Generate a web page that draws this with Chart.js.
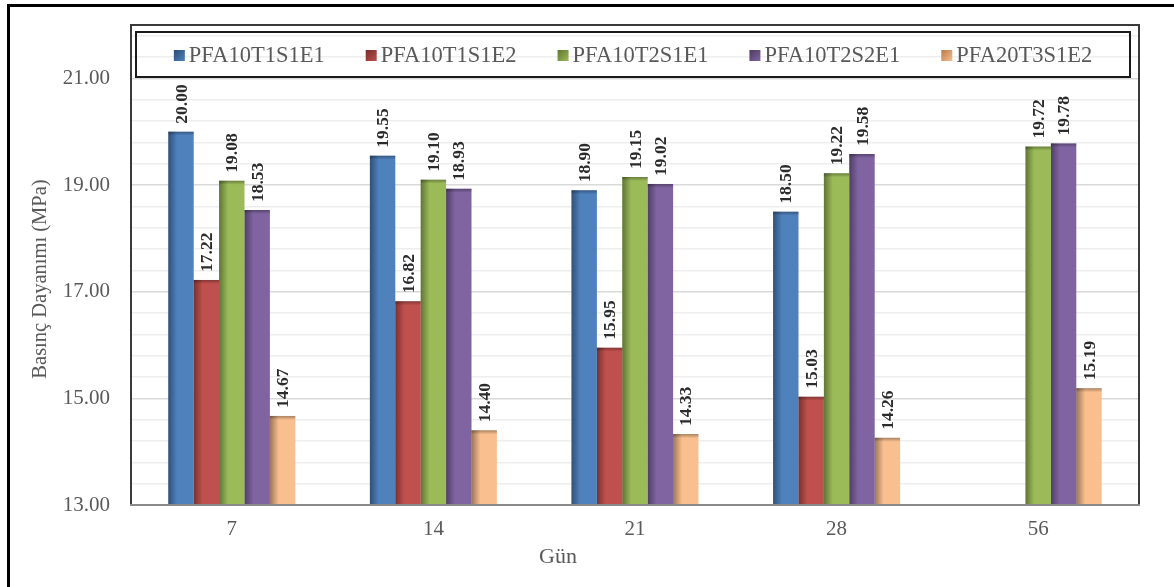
<!DOCTYPE html>
<html>
<head>
<meta charset="utf-8">
<script src="https://cdn.jsdelivr.net/npm/chart.js@4.4.1/dist/chart.umd.min.js"></script>
<style>
  html, body { margin: 0; padding: 0; background: #ffffff; }
  #wrap { position: relative; width: 1174px; height: 587px; overflow: hidden; }
  #frame {
    position: absolute; left: 7px; top: 4px; width: 1200px; height: 620px;
    border-left: 3px solid #000; border-top: 3px solid #000; pointer-events: none;
  }
  canvas { display: block; }
</style>
</head>
<body>
<div id="wrap">
  <canvas id="c" width="1174" height="587"></canvas>
  <div id="frame"></div>
</div>
<script>
// Curing age (days)
const days = ['7', '14', '21', '28', '56'];

// Compressive strength per mix (MPa); null = not tested at that age
const seriesNames = ['PFA10T1S1E1', 'PFA10T1S1E2', 'PFA10T2S1E1', 'PFA10T2S2E1', 'PFA20T3S1E2'];
const pfa10t1s1e1 = [20.00, 19.55, 18.90, 18.50, null];
const pfa10t1s1e2 = [17.22, 16.82, 15.95, 15.03, null];
const pfa10t2s1e1 = [19.08, 19.10, 19.15, 19.22, 19.72];
const pfa10t2s2e1 = [18.53, 18.93, 19.02, 19.58, 19.78];
const pfa20t3s1e2 = [14.67, 14.40, 14.33, 14.26, 15.19];

const seriesColors = ['#4f81bd', '#c0504d', '#9bbb59', '#8064a2', '#f9bf8f'];
const seriesDark   = ['#2c4d75', '#772c2a', '#5f7530', '#4d3b62', '#b6794a'];

// Axis range, labelled ticks and minor grid spacing
const yMin = 13, yMax = 22, yMinorStep = 0.4;
const yLabelValues = [13, 15, 17, 19, 21];

const serif = "'Times New Roman', 'Liberation Serif', serif";

function isLabelled(v) {
  return yLabelValues.some(t => Math.abs(t - v) < 1e-6);
}

function gridValues() {
  const out = [];
  for (let k = 0; yMin + k * yMinorStep < yMax - 1e-9; k++) {
    out.push(Math.round((yMin + k * yMinorStep) * 10) / 10);
  }
  return out;
}

// Shading on bar sides, value labels, legend, frame and axis titles
const decorPlugin = {
  id: 'decor',
  afterDatasetsDraw(chart) {
    const { ctx, chartArea: a } = chart;
    chart.data.datasets.forEach((ds, di) => {
      const meta = chart.getDatasetMeta(di);
      meta.data.forEach((bar, i) => {
        const v = ds.data[i];
        if (v === null || v === undefined) return;
        const left = bar.x - bar.width / 2;
        const bottom = Math.min(bar.base, a.bottom);
        const h = bottom - bar.y;
        ctx.save();
        ctx.beginPath();
        ctx.rect(a.left, a.top, a.right - a.left, a.bottom - a.top);
        ctx.clip();
        const sw = bar.width * 0.35;
        const g = ctx.createLinearGradient(left, 0, left + sw, 0);
        g.addColorStop(0, 'rgba(0,0,0,0.38)');
        g.addColorStop(1, 'rgba(0,0,0,0)');
        ctx.fillStyle = g;
        ctx.fillRect(left, bar.y, sw, h);
        const gt = ctx.createLinearGradient(0, bar.y, 0, bar.y + 4);
        gt.addColorStop(0, 'rgba(0,0,0,0.32)');
        gt.addColorStop(1, 'rgba(0,0,0,0)');
        ctx.fillStyle = gt;
        ctx.fillRect(left, bar.y, bar.width, 4);
        ctx.restore();

        // value label, rotated
        ctx.save();
        ctx.translate(bar.x, bar.y - 8);
        ctx.rotate(-Math.PI / 2);
        ctx.font = 'bold 17.5px ' + serif;
        ctx.fillStyle = '#2b2b2b';
        ctx.textAlign = 'left';
        ctx.textBaseline = 'middle';
        ctx.fillText(v.toFixed(2), 0, 1);
        ctx.restore();
      });
    });
  },
  afterDraw(chart) {
    const { ctx, chartArea: a } = chart;
    ctx.save();
    // plot frame
    ctx.strokeStyle = '#3a3a3a';
    ctx.lineWidth = 2;
    ctx.beginPath();
    ctx.moveTo(a.left, a.bottom);
    ctx.lineTo(a.left, a.top);
    ctx.lineTo(a.right, a.top);
    ctx.lineTo(a.right, a.bottom);
    ctx.stroke();
    ctx.strokeStyle = '#8a8a8a';
    ctx.beginPath();
    ctx.moveTo(a.left - 1, a.bottom);
    ctx.lineTo(a.right + 1, a.bottom);
    ctx.stroke();

    // legend box
    const lx = a.left + 5, ly = a.top + 7, lw = a.right - a.left - 14, lh = 45;
    ctx.strokeStyle = '#1a1a1a';
    ctx.lineWidth = 2;
    ctx.strokeRect(lx, ly, lw, lh);
    ctx.font = '22.5px ' + serif;
    const gap = 41, box = 11, boxGap = 4;
    const widths = seriesNames.map(n => box + boxGap + ctx.measureText(n).width);
    const total = widths.reduce((s, w) => s + w, 0) + gap * (seriesNames.length - 1);
    let x = lx + lw / 2 - total / 2;
    const cy = ly + lh / 2 + 1;
    seriesNames.forEach((n, i) => {
      const g = ctx.createLinearGradient(x, cy - box / 2, x + box, cy + box / 2);
      g.addColorStop(0, seriesDark[i]);
      g.addColorStop(1, seriesColors[i]);
      ctx.fillStyle = g;
      ctx.fillRect(x, cy - box / 2, box, box);
      ctx.fillStyle = '#595959';
      ctx.textAlign = 'left';
      ctx.textBaseline = 'middle';
      ctx.fillText(n, x + box + boxGap, cy + 1);
      x += widths[i] + gap;
    });

    // axis titles
    ctx.fillStyle = '#595959';
    ctx.font = '22px ' + serif;
    ctx.textAlign = 'center';
    ctx.textBaseline = 'middle';
    ctx.fillText('Gün', 558, 557);
    ctx.save();
    ctx.translate(41, 279);
    ctx.rotate(-Math.PI / 2);
    ctx.font = '20.5px ' + serif;
    ctx.fillText('Basınç Dayanımı (MPa)', 0, 0);
    ctx.restore();
    ctx.restore();
  }
};

const datasets = [pfa10t1s1e1, pfa10t1s1e2, pfa10t2s1e1, pfa10t2s2e1, pfa20t3s1e2].map((d, i) => ({
  label: seriesNames[i],
  data: d,
  backgroundColor: seriesColors[i],
  borderWidth: 0,
  categoryPercentage: 0.63,
  barPercentage: 1.0
}));

new Chart(document.getElementById('c'), {
  type: 'bar',
  data: { labels: days, datasets },
  options: {
    responsive: false,
    devicePixelRatio: 1,
    animation: false,
    layout: { padding: { left: 0, right: 35, top: 25, bottom: 0 } },
    plugins: {
      legend: { display: false },
      tooltip: { enabled: false }
    },
    scales: {
      x: {
        grid: { display: false, drawTicks: false },
        border: { display: false },
        ticks: {
          color: '#595959',
          font: { family: serif, size: 21 },
          padding: 12
        },
        afterFit(scale) {
          scale.height = 82;
          scale.paddingLeft = 0;
          scale.paddingRight = 0;
        }
      },
      y: {
        min: yMin,
        max: yMax,
        bounds: 'data',
        grid: {
          drawTicks: false,
          color: (ctx) => (ctx.tick && isLabelled(ctx.tick.value)) ? '#d9d9d9' : '#eeeeee',
          lineWidth: 1.5
        },
        border: { display: false },
        afterBuildTicks(scale) {
          scale.ticks = gridValues().map(v => ({ value: v }));
        },
        ticks: {
          color: '#595959',
          font: { family: serif, size: 21 },
          padding: 21,
          autoSkip: false,
          callback: (v) => isLabelled(v) ? Number(v).toFixed(2) : ''
        },
        afterFit(scale) {
          scale.width = 131;
          scale.paddingTop = 0;
          scale.paddingBottom = 0;
        }
      }
    }
  },
  plugins: [decorPlugin]
});
</script>
</body>
</html>
